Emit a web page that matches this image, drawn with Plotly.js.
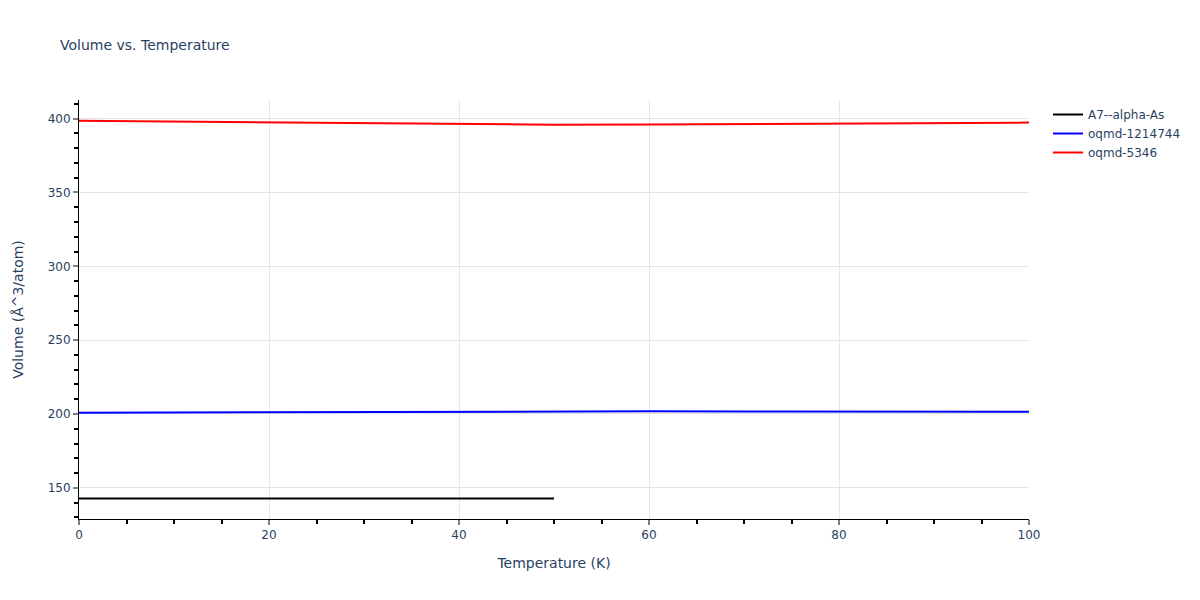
<!DOCTYPE html>
<html>
<head>
<meta charset="utf-8">
<script src="https://cdn.plot.ly/plotly-3.0.1.min.js"></script>
<style>html,body{margin:0;padding:0;background:#fff;}</style>
</head>
<body>
<div id="chart" style="width:1200px;height:600px;"></div>
<script>
const namesList = ["A7--alpha-As", "oqmd-1214744", "oqmd-5346"];
const colorsList = ["black", "blue", "red"];

const tempA7 = [0, 10, 20, 30, 40, 50];
const volA7 = [142.8, 142.8, 142.8, 142.8, 142.8, 142.8];

const tempBlue = [0, 10, 20, 30, 40, 50, 60, 70, 80, 90, 100];
const volBlue = [200.8, 201.0, 201.2, 201.4, 201.6, 201.8, 201.8, 201.7, 201.6, 201.5, 201.5];

const tempRed = [0, 10, 20, 30, 40, 50, 60, 70, 80, 90, 100];
const volRed = [398.6, 398.1, 397.4, 396.8, 396.2, 395.9, 396.0, 396.3, 396.7, 397.0, 397.3];

const xs = [tempA7, tempBlue, tempRed];
const ys = [volA7, volBlue, volRed];

const traces = namesList.map((n, i) => ({
  x: xs[i], y: ys[i], name: n, type: 'scatter', mode: 'lines',
  line: {color: colorsList[i], width: 2}
}));

const layout = {
  width: 1200, height: 600,
  paper_bgcolor: 'white', plot_bgcolor: 'white',
  font: {family: 'Verdana, "DejaVu Sans", sans-serif', size: 12, color: '#2a3f5f'},
  title: {text: 'Volume vs. Temperature', x: 0.05, xanchor: 'left', y: 0.933, font: {size: 14}},
  margin: {l: 79, r: 171, t: 100, b: 81},
  showlegend: true,
  legend: {x: 1.02, y: 1, xanchor: 'left', yanchor: 'top', font: {size: 12}},
  xaxis: {
    title: {text: 'Temperature (K)', font: {size: 14}, standoff: 16},
    range: [0, 100], showline: true, linecolor: 'black', linewidth: 1,
    showgrid: true, gridcolor: '#e5e5e5', zeroline: false,
    ticks: 'outside', ticklen: 5, tickcolor: 'gray', tickwidth: 2, dtick: 20,
    minor: {ticks: 'outside', ticklen: 4, tickcolor: 'black', dtick: 5, showgrid: false}
  },
  yaxis: {
    title: {text: 'Volume (Å^3/atom)', font: {size: 14}, standoff: 20},
    range: [128.9, 412.6], showline: true, linecolor: 'black', linewidth: 1,
    showgrid: true, gridcolor: '#e5e5e5', zeroline: false,
    ticks: 'outside', ticklen: 5, tickcolor: 'gray', tickwidth: 2, dtick: 50,
    minor: {ticks: 'outside', ticklen: 4, tickcolor: 'black', dtick: 10, showgrid: false}
  }
};

Plotly.newPlot('chart', traces, layout, {displayModeBar: false});
</script>
</body>
</html>
